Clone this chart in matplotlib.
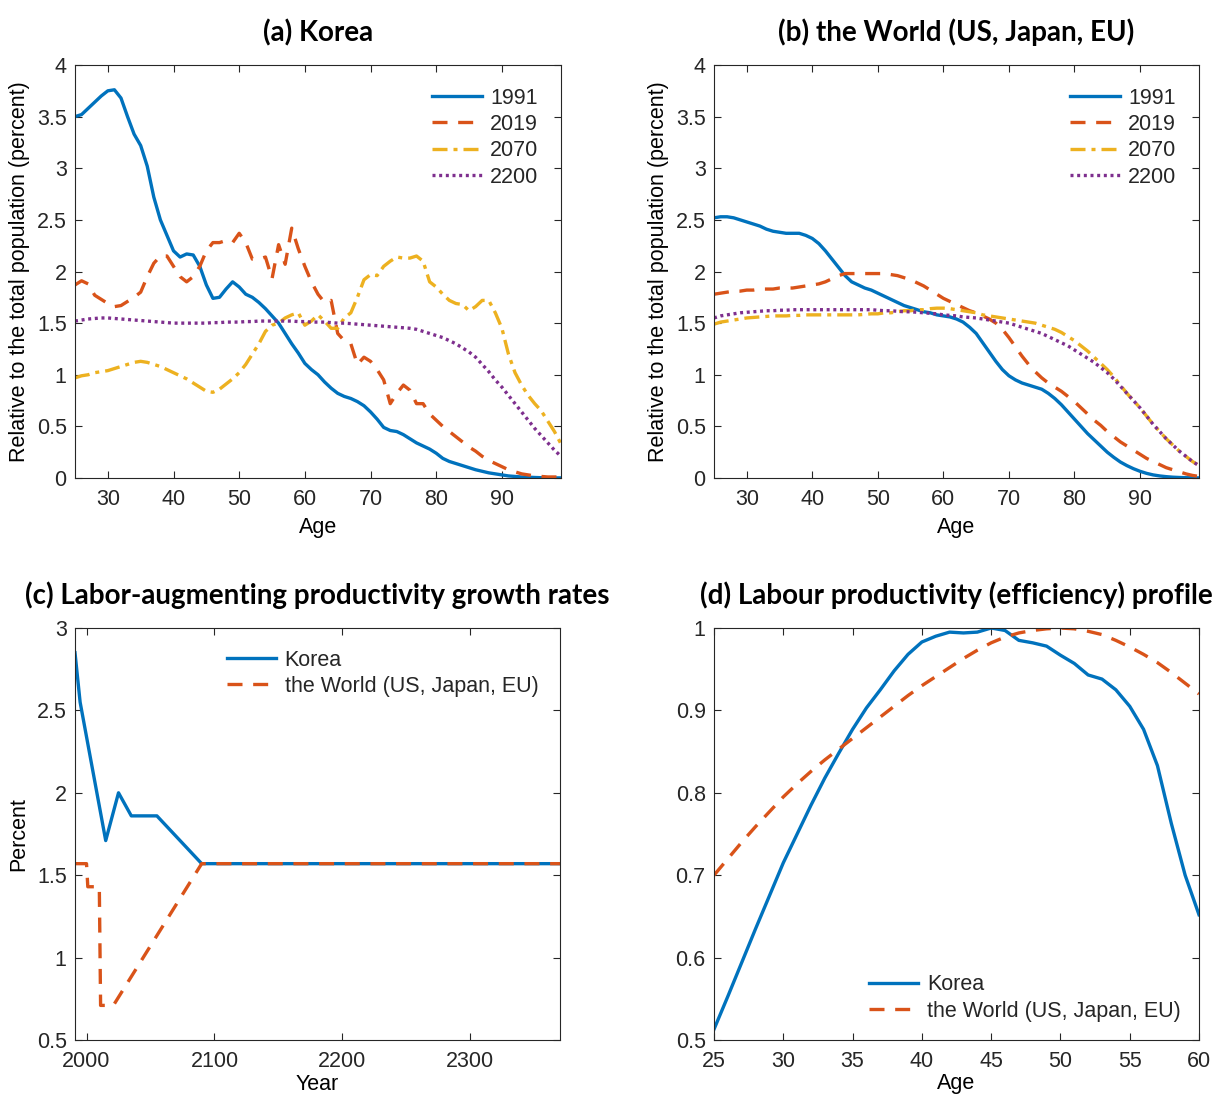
import numpy as np
import matplotlib
matplotlib.use("Agg")
import matplotlib.pyplot as plt
from matplotlib.ticker import FuncFormatter

# MATLAB default colours
C_BLUE = "#0072BD"
C_ORANGE = "#D95319"
C_YELLOW = "#EDB120"
C_PURPLE = "#7E2F8E"

# ---- (a), (b): population share by age ----
ages = list(range(25, 100))
pop_years = ["1991", "2019", "2070", "2200"]

kor_1991 = [3.50, 3.52, 3.58, 3.64, 3.70, 3.75, 3.76, 3.68, 3.50, 3.33,
            3.22, 3.02, 2.72, 2.50, 2.35, 2.20, 2.14, 2.17, 2.16, 2.05,
            1.87, 1.74, 1.75, 1.83, 1.90, 1.85, 1.78, 1.75, 1.70, 1.64,
            1.57, 1.50, 1.40, 1.30, 1.21, 1.11, 1.05, 1.00, 0.93, 0.87,
            0.82, 0.79, 0.77, 0.74, 0.70, 0.64, 0.57, 0.49, 0.46, 0.45,
            0.42, 0.38, 0.34, 0.31, 0.28, 0.24, 0.19, 0.16, 0.14, 0.12,
            0.10, 0.08, 0.065, 0.05, 0.04, 0.03, 0.02, 0.015, 0.01, 0.008,
            0.005, 0.003, 0.002, 0.001, 0.001]
kor_2019 = [1.87, 1.91, 1.88, 1.77, 1.73, 1.69, 1.66, 1.67, 1.71, 1.75,
            1.80, 1.95, 2.08, 2.15, 2.15, 2.05, 1.95, 1.90, 1.95, 2.05,
            2.20, 2.28, 2.28, 2.30, 2.28, 2.37, 2.28, 2.12, 2.12, 2.14,
            1.93, 2.26, 2.07, 2.42, 2.22, 2.05, 1.90, 1.78, 1.70, 1.72,
            1.40, 1.33, 1.30, 1.10, 1.17, 1.13, 1.05, 0.95, 0.72, 0.82,
            0.90, 0.85, 0.72, 0.72, 0.62, 0.56, 0.50, 0.45, 0.40, 0.35,
            0.30, 0.26, 0.21, 0.17, 0.14, 0.11, 0.08, 0.06, 0.04, 0.03,
            0.02, 0.015, 0.01, 0.01, 0.01]
kor_2070 = [0.97, 0.99, 1.00, 1.02, 1.03, 1.04, 1.06, 1.08, 1.10, 1.12,
            1.13, 1.12, 1.10, 1.08, 1.05, 1.02, 0.99, 0.96, 0.92, 0.88,
            0.84, 0.83, 0.86, 0.91, 0.96, 1.02, 1.10, 1.20, 1.30, 1.42,
            1.48, 1.50, 1.55, 1.58, 1.60, 1.48, 1.52, 1.58, 1.52, 1.45,
            1.45, 1.55, 1.60, 1.75, 1.92, 1.97, 1.96, 2.05, 2.10, 2.14,
            2.13, 2.13, 2.15, 2.10, 1.90, 1.85, 1.78, 1.72, 1.69, 1.68,
            1.62, 1.66, 1.72, 1.72, 1.60, 1.45, 1.20, 1.02, 0.90, 0.80,
            0.72, 0.65, 0.55, 0.45, 0.33]
kor_2200 = [1.52, 1.53, 1.54, 1.545, 1.55, 1.55, 1.545, 1.54, 1.535, 1.53,
            1.525, 1.52, 1.515, 1.51, 1.505, 1.50, 1.50, 1.50, 1.50, 1.50,
            1.50, 1.505, 1.505, 1.51, 1.51, 1.51, 1.515, 1.515, 1.52, 1.52,
            1.52, 1.52, 1.52, 1.52, 1.515, 1.515, 1.51, 1.51, 1.51, 1.505,
            1.50, 1.50, 1.495, 1.49, 1.485, 1.48, 1.475, 1.47, 1.465, 1.46,
            1.455, 1.45, 1.44, 1.42, 1.40, 1.38, 1.36, 1.33, 1.30, 1.26,
            1.22, 1.17, 1.10, 1.03, 0.95, 0.88, 0.80, 0.72, 0.64, 0.56,
            0.48, 0.41, 0.34, 0.27, 0.21]

wld_1991 = [2.52, 2.53, 2.53, 2.52, 2.50, 2.48, 2.46, 2.44, 2.41, 2.39,
            2.38, 2.37, 2.37, 2.37, 2.35, 2.32, 2.27, 2.20, 2.12, 2.04,
            1.96, 1.90, 1.87, 1.84, 1.82, 1.79, 1.76, 1.73, 1.70, 1.67,
            1.65, 1.63, 1.61, 1.60, 1.58, 1.57, 1.56, 1.54, 1.51, 1.46,
            1.40, 1.31, 1.22, 1.13, 1.05, 0.99, 0.95, 0.92, 0.90, 0.88,
            0.86, 0.82, 0.77, 0.71, 0.64, 0.57, 0.50, 0.43, 0.37, 0.31,
            0.25, 0.20, 0.155, 0.12, 0.09, 0.065, 0.045, 0.03, 0.02, 0.013,
            0.008, 0.005, 0.003, 0.002, 0.001]
wld_2019 = [1.78, 1.79, 1.80, 1.81, 1.81, 1.82, 1.82, 1.83, 1.83, 1.83,
            1.84, 1.84, 1.84, 1.85, 1.86, 1.87, 1.88, 1.90, 1.93, 1.96,
            1.98, 1.98, 1.98, 1.98, 1.98, 1.98, 1.98, 1.97, 1.96, 1.94,
            1.92, 1.89, 1.86, 1.82, 1.78, 1.74, 1.71, 1.68, 1.65, 1.62,
            1.60, 1.57, 1.54, 1.50, 1.44, 1.36, 1.27, 1.18, 1.10, 1.03,
            0.97, 0.92, 0.88, 0.84, 0.79, 0.74, 0.68, 0.62, 0.56, 0.51,
            0.45, 0.40, 0.35, 0.31, 0.27, 0.23, 0.19, 0.16, 0.13, 0.10,
            0.08, 0.06, 0.04, 0.025, 0.015]
wld_2070 = [1.49, 1.51, 1.52, 1.53, 1.54, 1.55, 1.555, 1.56, 1.565, 1.57,
            1.57, 1.57, 1.575, 1.575, 1.58, 1.58, 1.58, 1.58, 1.58, 1.58,
            1.58, 1.58, 1.58, 1.585, 1.59, 1.59, 1.60, 1.60, 1.61, 1.62,
            1.62, 1.63, 1.63, 1.64, 1.645, 1.645, 1.64, 1.63, 1.62, 1.61,
            1.60, 1.58, 1.57, 1.56, 1.55, 1.54, 1.53, 1.52, 1.51, 1.50,
            1.48, 1.46, 1.44, 1.41, 1.37, 1.33, 1.28, 1.23, 1.17, 1.11,
            1.05, 0.98, 0.90, 0.82, 0.75, 0.68, 0.60, 0.52, 0.45, 0.38,
            0.32, 0.26, 0.21, 0.16, 0.12]
wld_2200 = [1.55, 1.57, 1.58, 1.59, 1.60, 1.605, 1.61, 1.615, 1.62, 1.62,
            1.625, 1.625, 1.63, 1.63, 1.63, 1.63, 1.63, 1.63, 1.63, 1.63,
            1.63, 1.63, 1.63, 1.63, 1.63, 1.625, 1.62, 1.62, 1.615, 1.61,
            1.61, 1.605, 1.60, 1.595, 1.59, 1.58, 1.575, 1.57, 1.56, 1.555,
            1.55, 1.54, 1.53, 1.52, 1.51, 1.50, 1.48, 1.46, 1.44, 1.42,
            1.40, 1.37, 1.34, 1.31, 1.28, 1.24, 1.20, 1.16, 1.12, 1.07,
            1.02, 0.96, 0.89, 0.82, 0.75, 0.68, 0.60, 0.52, 0.45, 0.38,
            0.32, 0.26, 0.21, 0.16, 0.12]

# ---- (c): growth rates ----
kor_growth_year = [1991, 1995, 2015, 2025, 2035, 2055, 2090, 2370]
kor_growth = [2.85, 2.55, 1.71, 2.00, 1.86, 1.86, 1.57, 1.57]
wld_growth_year = [1991, 2000, 2001, 2010, 2011, 2021, 2090, 2370]
wld_growth = [1.57, 1.57, 1.43, 1.43, 0.71, 0.71, 1.57, 1.57]

# ---- (d): efficiency profile ----
eff_ages = list(range(25, 61))
kor_eff = [0.513, 0.553, 0.594, 0.635, 0.675, 0.715, 0.750, 0.785, 0.818, 0.848,
           0.877, 0.903, 0.925, 0.948, 0.968, 0.983, 0.990, 0.995, 0.994, 0.995,
           1.000, 0.997, 0.985, 0.982, 0.978, 0.967, 0.957, 0.943, 0.938, 0.925,
           0.905, 0.877, 0.833, 0.763, 0.700, 0.652]
wld_eff = [0.700, 0.720, 0.740, 0.759, 0.777, 0.795, 0.811, 0.826, 0.840, 0.853,
           0.866, 0.879, 0.892, 0.905, 0.918, 0.930, 0.941, 0.952, 0.963, 0.973,
           0.982, 0.989, 0.994, 0.997, 0.999, 1.000, 0.999, 0.996, 0.992, 0.985,
           0.977, 0.968, 0.958, 0.946, 0.933, 0.920]

series_labels = ["Korea", "the World (US, Japan, EU)"]

# line styles (MATLAB look)
LW = 2.4
STYLES = [
    dict(color=C_BLUE, ls="-"),
    dict(color=C_ORANGE, ls=(0, (4.5, 3.2))),
    dict(color=C_YELLOW, ls=(0, (4.5, 1.8, 1.2, 1.8))),
    dict(color=C_PURPLE, ls=(0, (0.9, 1.1))),
]

FS = 15.5  # tick / label / legend size

plt.rcParams["font.family"] = ["Liberation Sans", "DejaVu Sans"]
plt.rcParams["font.size"] = FS
plt.rcParams["axes.linewidth"] = 0.8
plt.rcParams["axes.edgecolor"] = "#262626"
plt.rcParams["xtick.color"] = "#262626"
plt.rcParams["ytick.color"] = "#262626"
plt.rcParams["text.color"] = "#262626"

TITLE_FONT = dict(family=["Lato", "DejaVu Sans"], weight="bold", size=20, color="black")
LEG_KW = dict(frameon=False, fontsize=FS, handlelength=2.3, handletextpad=0.4,
              labelspacing=0.25)

fig = plt.figure(figsize=(12.12, 10.95), dpi=100)
W, H = 1212.0, 1095.0


def make_axes(x0, x1, ytop, ybot):
    return fig.add_axes([x0 / W, 1 - ybot / H, (x1 - x0) / W, (ybot - ytop) / H])


def style_axes(ax):
    ax.tick_params(direction="in", top=True, right=True, length=5, width=0.8,
                   labelsize=FS, pad=6)
    ax.tick_params(axis="x", pad=8)
    ax.yaxis.set_major_formatter(FuncFormatter(lambda v, p: "%g" % v))


ax_a = make_axes(75, 561, 65, 478)
ax_b = make_axes(714, 1199, 65, 478)
ax_c = make_axes(75, 560, 628, 1040)
ax_d = make_axes(714, 1199, 628, 1040)

# population panels
for ax, data, title in [(ax_a, [kor_1991, kor_2019, kor_2070, kor_2200], "(a) Korea"),
                        (ax_b, [wld_1991, wld_2019, wld_2070, wld_2200],
                         "(b) the World (US, Japan, EU)")]:
    for vals, lab, st in zip(data, pop_years, STYLES):
        ax.plot(ages, vals, lw=LW, label=lab, **st)
    ax.set_xlim(25, 99)
    ax.set_ylim(0, 4)
    ax.set_xticks(range(30, 91, 10))
    ax.set_yticks(np.arange(0, 4.01, 0.5))
    ax.set_xlabel("Age", fontsize=FS, labelpad=5)
    ax.set_ylabel("Relative to the total population (percent)", fontsize=FS, labelpad=5)
    ax.set_title(title, pad=17, **TITLE_FONT)
    style_axes(ax)
    ax.legend(loc="upper right", borderaxespad=0.65, **LEG_KW)

# growth rates
ax_c.plot(kor_growth_year, kor_growth, lw=LW, label=series_labels[0], **STYLES[0])
ax_c.plot(wld_growth_year, wld_growth, lw=LW, label=series_labels[1], **STYLES[1])
ax_c.set_xlim(1991, 2370)
ax_c.set_ylim(0.5, 3)
ax_c.set_xticks([2000, 2100, 2200, 2300])
ax_c.set_yticks(np.arange(0.5, 3.01, 0.5))
# bottom labels kept a bit tighter so they stay inside the canvas
ax_c.set_xlabel("Year", fontsize=FS, labelpad=1)
ax_c.set_ylabel("Percent", fontsize=FS, labelpad=5)
ax_c.set_title("(c) Labor-augmenting productivity growth rates", pad=17, **TITLE_FONT)
style_axes(ax_c)
ax_c.legend(loc="upper right", borderaxespad=0.6, **LEG_KW)

# efficiency profile
ax_d.plot(eff_ages, kor_eff, lw=LW, label=series_labels[0], **STYLES[0])
ax_d.plot(eff_ages, wld_eff, lw=LW, label=series_labels[1], **STYLES[1])
ax_d.set_xlim(25, 60)
ax_d.set_ylim(0.5, 1)
ax_d.set_xticks(range(25, 61, 5))
ax_d.set_yticks(np.arange(0.5, 1.01, 0.1))
ax_d.set_xlabel("Age", fontsize=FS, labelpad=1)
ax_d.set_title("(d) Labour productivity (efficiency) profile", pad=17, **TITLE_FONT)
style_axes(ax_d)
ax_d.legend(loc="lower right", borderaxespad=0.45, **LEG_KW)

fig.savefig("out.png", dpi=100)
